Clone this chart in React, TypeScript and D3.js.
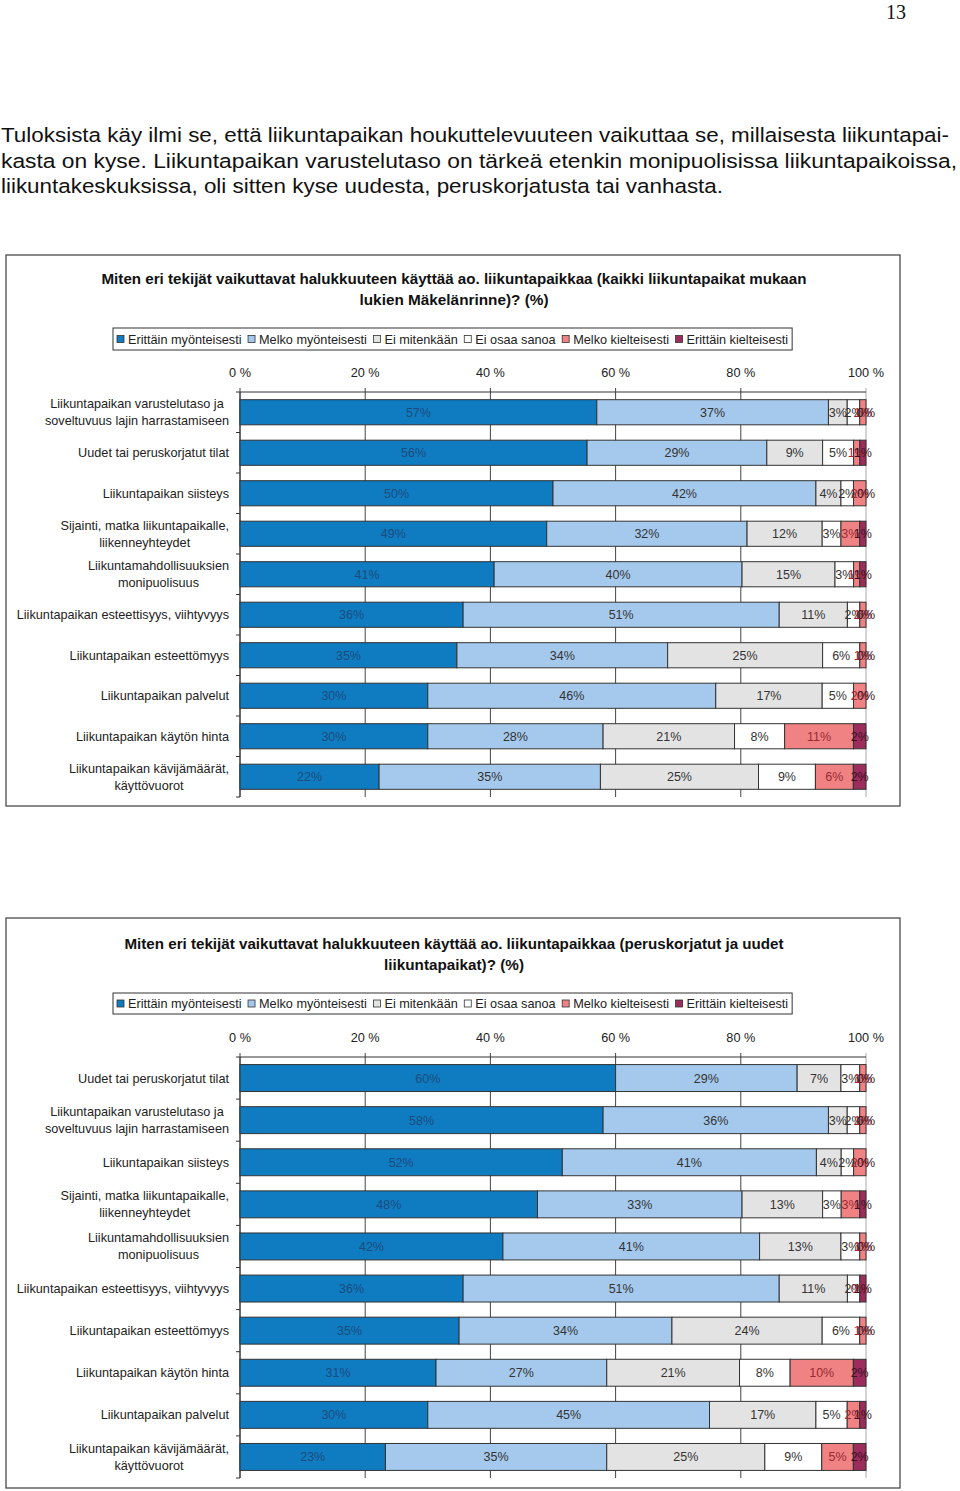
import React, { useEffect, useRef } from "react";
import * as d3 from "d3";

const W = 960;
const H = 1491;

const seriesNames = [
  "Erittäin myönteisesti",
  "Melko myönteisesti",
  "Ei mitenkään",
  "Ei osaa sanoa",
  "Melko kielteisesti",
  "Erittäin kielteisesti",
];
const seriesColors = ["#0f7bc1", "#a5c9ec", "#e3e3e3", "#ffffff", "#f08284", "#9b2c5c"];
const labelColors = ["#1b4d7c", "#333333", "#333333", "#333333", "#9a2a33", "#3e1226"];
const tickValues = [0, 20, 40, 60, 80, 100];

const paragraphLines = [
  "Tuloksista käy ilmi se, että liikuntapaikan houkuttelevuuteen vaikuttaa se, millaisesta liikuntapai-",
  "kasta on kyse. Liikuntapaikan varustelutaso on tärkeä etenkin monipuolisissa liikuntapaikoissa,",
  "liikuntakeskuksissa, oli sitten kyse uudesta, peruskorjatusta tai vanhasta.",
];

const title1 = [
  "Miten eri tekijät vaikuttavat halukkuuteen käyttää ao. liikuntapaikkaa (kaikki liikuntapaikat mukaan",
  "lukien Mäkelänrinne)? (%)",
];
const categories1 = [
  "Liikuntapaikan varustelutaso ja\nsoveltuvuus lajin harrastamiseen",
  "Uudet tai peruskorjatut tilat",
  "Liikuntapaikan siisteys",
  "Sijainti, matka liikuntapaikalle,\nliikenneyhteydet",
  "Liikuntamahdollisuuksien\nmonipuolisuus",
  "Liikuntapaikan esteettisyys, viihtyvyys",
  "Liikuntapaikan esteettömyys",
  "Liikuntapaikan palvelut",
  "Liikuntapaikan käytön hinta",
  "Liikuntapaikan kävijämäärät,\nkäyttövuorot",
];
const values1 = [
  [57, 37, 3, 2, 1, 0],
  [56, 29, 9, 5, 1, 1],
  [50, 42, 4, 2, 2, 0],
  [49, 32, 12, 3, 3, 1],
  [41, 40, 15, 3, 1, 1],
  [36, 51, 11, 2, 1, 0],
  [35, 34, 25, 6, 1, 0],
  [30, 46, 17, 5, 2, 0],
  [30, 28, 21, 8, 11, 2],
  [22, 35, 25, 9, 6, 2],
];

const title2 = [
  "Miten eri tekijät vaikuttavat halukkuuteen käyttää ao. liikuntapaikkaa (peruskorjatut ja uudet",
  "liikuntapaikat)? (%)",
];
const categories2 = [
  "Uudet tai peruskorjatut tilat",
  "Liikuntapaikan varustelutaso ja\nsoveltuvuus lajin harrastamiseen",
  "Liikuntapaikan siisteys",
  "Sijainti, matka liikuntapaikalle,\nliikenneyhteydet",
  "Liikuntamahdollisuuksien\nmonipuolisuus",
  "Liikuntapaikan esteettisyys, viihtyvyys",
  "Liikuntapaikan esteettömyys",
  "Liikuntapaikan käytön hinta",
  "Liikuntapaikan palvelut",
  "Liikuntapaikan kävijämäärät,\nkäyttövuorot",
];
const values2 = [
  [60, 29, 7, 3, 1, 0],
  [58, 36, 3, 2, 1, 0],
  [52, 41, 4, 2, 2, 0],
  [48, 33, 13, 3, 3, 1],
  [42, 41, 13, 3, 1, 0],
  [36, 51, 11, 2, 0, 1],
  [35, 34, 24, 6, 1, 0],
  [31, 27, 21, 8, 10, 2],
  [30, 45, 17, 5, 2, 1],
  [23, 35, 25, 9, 5, 2],
];

const FONT = "'Liberation Sans', Arial, Helvetica, sans-serif";

type ChartCfg = {
  frame: { x: number; y: number; w: number; h: number };
  title: string[];
  titleY: number[];
  titleW: number[];
  legendY: number;
  legendH: number;
  axisLabelY: number;
  plotTop: number;
  plotBottom: number;
  padding: number;
  categories: string[];
  values: number[][];
};

function drawChart(svg: d3.Selection<SVGSVGElement, unknown, null, undefined>, cfg: ChartCfg) {
  const g = svg.append("g");
  const { frame } = cfg;
  g.append("rect")
    .attr("x", frame.x)
    .attr("y", frame.y)
    .attr("width", frame.w)
    .attr("height", frame.h)
    .attr("fill", "#fff")
    .attr("stroke", "#4a4a4a")
    .attr("stroke-width", 1.3);

  const cx = frame.x + frame.w / 2 + 1;
  cfg.title.forEach((t, i) => {
    g.append("text")
      .attr("x", cx)
      .attr("y", cfg.titleY[i])
      .attr("text-anchor", "middle")
      .attr("font-family", FONT)
      .attr("font-weight", "bold")
      .attr("font-size", 14.5)
      .attr("fill", "#111")
      .attr("textLength", cfg.titleW[i])
      .attr("lengthAdjust", "spacingAndGlyphs")
      .text(t);
  });

  // legend
  const lg = g.append("g");
  const lx0 = 113;
  let x = lx0 + 4;
  const sq = 7;
  const sqToText = 11;
  const itemGap = 6.5;
  const midY = cfg.legendY + cfg.legendH / 2;
  seriesNames.forEach((name, i) => {
    lg.append("rect")
      .attr("x", x)
      .attr("y", midY - sq / 2)
      .attr("width", sq)
      .attr("height", sq)
      .attr("fill", seriesColors[i])
      .attr("stroke", "#333")
      .attr("stroke-width", 0.8);
    const t = lg
      .append("text")
      .attr("x", x + sqToText)
      .attr("y", midY + 4.5)
      .attr("font-family", FONT)
      .attr("font-size", 12.7)
      .attr("fill", "#222")
      .text(name);
    const w = (t.node() as SVGTextElement).getComputedTextLength();
    x = x + sqToText + w + itemGap;
  });
  lg.insert("rect", ":first-child")
    .attr("x", lx0)
    .attr("y", cfg.legendY)
    .attr("width", x - itemGap + 4 - lx0)
    .attr("height", cfg.legendH)
    .attr("fill", "#fff")
    .attr("stroke", "#333")
    .attr("stroke-width", 1);

  const xScale = d3.scaleLinear().domain([0, 100]).range([240, 866]);
  const yScale = d3
    .scaleBand<string>()
    .domain(cfg.categories)
    .range([cfg.plotTop, cfg.plotBottom])
    .paddingInner(cfg.padding)
    .paddingOuter(cfg.padding / 2);

  // tick labels
  tickValues.forEach((v) => {
    g.append("text")
      .attr("x", xScale(v))
      .attr("y", cfg.axisLabelY)
      .attr("text-anchor", "middle")
      .attr("font-family", FONT)
      .attr("font-size", 12.7)
      .attr("fill", "#222")
      .text(`${v} %`);
  });

  // grid lines
  tickValues.forEach((v) => {
    g.append("line")
      .attr("x1", xScale(v))
      .attr("x2", xScale(v))
      .attr("y1", cfg.plotTop - 4)
      .attr("y2", cfg.plotBottom)
      .attr("stroke", v === 100 ? "#aaaaaa" : "#444")
      .attr("stroke-width", 1);
  });
  g.append("line")
    .attr("x1", xScale(0))
    .attr("x2", xScale(100))
    .attr("y1", cfg.plotTop)
    .attr("y2", cfg.plotTop)
    .attr("stroke", "#333")
    .attr("stroke-width", 1);
  g.append("line")
    .attr("x1", xScale(0))
    .attr("x2", xScale(0))
    .attr("y1", cfg.plotTop)
    .attr("y2", cfg.plotBottom)
    .attr("stroke", "#333")
    .attr("stroke-width", 1);
  const step = yScale.step();
  for (let i = 0; i <= cfg.categories.length; i++) {
    const yy = cfg.plotTop + i * step;
    g.append("line")
      .attr("x1", xScale(0) - 4)
      .attr("x2", xScale(0))
      .attr("y1", yy)
      .attr("y2", yy)
      .attr("stroke", "#333")
      .attr("stroke-width", 1);
  }

  // bars
  const rows = cfg.values.map((vals, i) => {
    const sum = d3.sum(vals);
    let acc = 0;
    return vals.map((v, j) => {
      const x0 = (acc / sum) * 100;
      acc += v;
      const x1 = (acc / sum) * 100;
      return { cat: cfg.categories[i], s: j, v, x0, x1 };
    });
  });
  rows.forEach((segs) => {
    segs.forEach((d) => {
      if (d.v <= 0) return;
      g.append("rect")
        .attr("x", xScale(d.x0))
        .attr("y", yScale(d.cat)!)
        .attr("width", xScale(d.x1) - xScale(d.x0))
        .attr("height", yScale.bandwidth())
        .attr("fill", seriesColors[d.s])
        .attr("stroke", "#333")
        .attr("stroke-width", 1);
    });
  });
  rows.forEach((segs) => {
    segs.forEach((d) => {
      g.append("text")
        .attr("x", (xScale(d.x0) + xScale(d.x1)) / 2)
        .attr("y", yScale(d.cat)! + yScale.bandwidth() / 2 + 4.5)
        .attr("text-anchor", "middle")
        .attr("font-family", FONT)
        .attr("font-size", 12.5)
        .attr("fill", labelColors[d.s])
        .text(`${d.v}%`);
    });
  });

  // category labels: block right-aligned at 229, lines centred within block
  const right = 229;
  cfg.categories.forEach((c) => {
    const lines = c.split("\n");
    const cy = yScale(c)! + yScale.bandwidth() / 2;
    const lh = 17;
    const tspans: any[] = [];
    const t = g
      .append("text")
      .attr("font-family", FONT)
      .attr("font-size", 12.7)
      .attr("fill", "#222");
    const widths: number[] = [];
    lines.forEach((ln, k) => {
      const ts = t
        .append("tspan")
        .attr("x", 0)
        .attr("y", cy + 4.5 + (k - (lines.length - 1) / 2) * lh)
        .text(ln);
      tspans.push(ts);
      widths.push((ts.node() as SVGTSpanElement).getComputedTextLength());
    });
    const maxW = Math.max(...widths);
    const center = right - maxW / 2;
    tspans.forEach((ts) => ts.attr("x", center).attr("text-anchor", "middle"));
  });
}

export default function App() {
  const ref = useRef<SVGSVGElement>(null);
  useEffect(() => {
    if (!ref.current) return;
    const svg = d3.select(ref.current);
    svg.selectAll("*").remove();

    svg.append("rect").attr("width", W).attr("height", H).attr("fill", "#fff");

    svg
      .append("text")
      .attr("x", 906)
      .attr("y", 19)
      .attr("text-anchor", "end")
      .attr("font-family", "'Liberation Serif', 'Times New Roman', serif")
      .attr("font-size", 20)
      .attr("fill", "#111")
      .text("13");

    const paraW = [948, 956, 722];
    const paraY = [142, 168, 193];
    paragraphLines.forEach((ln, i) => {
      svg
        .append("text")
        .attr("x", 1)
        .attr("y", paraY[i])
        .attr("font-family", FONT)
        .attr("font-size", 20.5)
        .attr("fill", "#111")
        .attr("textLength", paraW[i])
        .attr("lengthAdjust", "spacingAndGlyphs")
        .text(ln);
    });

    drawChart(svg as any, {
      frame: { x: 6, y: 255, w: 894, h: 551 },
      title: title1,
      titleY: [284, 305],
      titleW: [705, 189],
      legendY: 328,
      legendH: 22,
      axisLabelY: 377,
      plotTop: 392,
      plotBottom: 797,
      padding: 0.38,
      categories: categories1,
      values: values1,
    });
    drawChart(svg as any, {
      frame: { x: 6, y: 918, w: 894, h: 570 },
      title: title2,
      titleY: [949, 970],
      titleW: [659, 140],
      legendY: 993,
      legendH: 21,
      axisLabelY: 1042,
      plotTop: 1057,
      plotBottom: 1478,
      padding: 0.36,
      categories: categories2,
      values: values2,
    });
  }, []);
  return (
    <svg
      ref={ref}
      width={W}
      height={H}
      style={{ position: "absolute", left: 0, top: 0, display: "block" }}
    />
  );
}
